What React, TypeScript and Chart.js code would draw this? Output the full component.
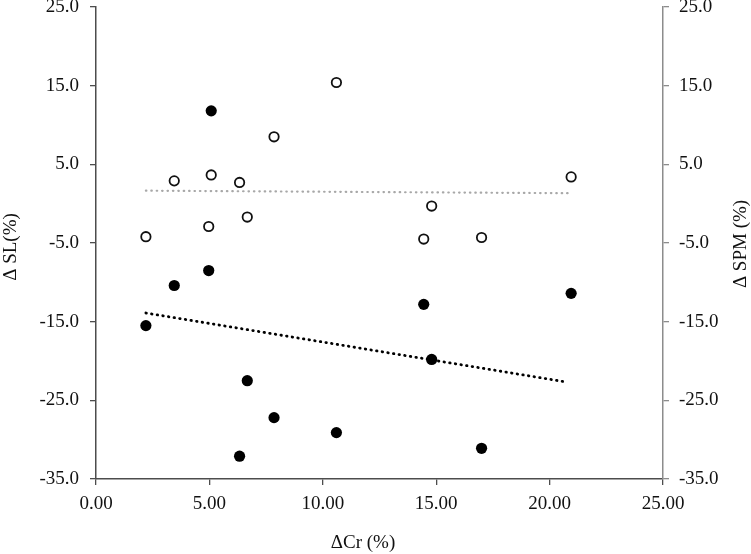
import React, { useEffect, useRef } from "react";
import { Chart, registerables } from "chart.js";

Chart.register(...registerables);

// ---- Data ----
const crValues = [2.2, 3.45, 4.97, 5.08, 6.33, 6.67, 7.85, 10.6, 14.45, 14.8, 17.0, 20.95];
const slValues = [-15.5, -10.4, -8.5, 11.8, -32.1, -22.5, -27.2, -29.1, -12.8, -19.8, -31.1, -11.4];
const spmValues = [-4.2, 2.9, -2.9, 3.65, 2.7, -1.7, 8.5, 15.4, -4.5, -0.3, -4.3, 3.4];

const slTrendX = [2.2, 20.8];
const slTrendY = [-13.9, -22.7];
const spmTrendX = [2.2, 20.8];
const spmTrendY = [1.65, 1.33];

const xTicks = [0, 5, 10, 15, 20, 25];
const yTicks = [-35, -25, -15, -5, 5, 15, 25];

const xTitle = "ΔCr (%)";
const yLeftTitle = "Δ SL(%)";
const yRightTitle = "Δ SPM (%)";

const FONT = "'Liberation Serif', 'Times New Roman', serif";
const FS = 19;

const titlePlugin = {
  id: "axisTitles",
  afterDraw(chart: any) {
    const ctx = chart.ctx;
    ctx.save();
    ctx.font = `${FS}px ${FONT}`;
    ctx.fillStyle = "#111";
    ctx.textAlign = "center";
    ctx.textBaseline = "middle";
    ctx.fillText(xTitle, 363, 543);
    ctx.save();
    ctx.translate(11, 247);
    ctx.rotate(-Math.PI / 2);
    ctx.fillText(yLeftTitle, 0, 0);
    ctx.restore();
    ctx.save();
    ctx.translate(741, 244);
    ctx.rotate(-Math.PI / 2);
    ctx.fillText(yRightTitle, 0, 0);
    ctx.restore();
    ctx.restore();
  },
};

export default function App() {
  const ref = useRef<HTMLCanvasElement | null>(null);

  useEffect(() => {
    if (!ref.current) return;
    const zeroPad = (scale: any) => {
      scale.paddingTop = 0;
      scale.paddingBottom = 0;
      scale.paddingLeft = 0;
      scale.paddingRight = 0;
    };
    const chart = new Chart(ref.current, {
      type: "scatter",
      data: {
        datasets: [
          {
            label: "SL trend",
            data: slTrendX.map((x, i) => ({ x, y: slTrendY[i] })),
            yAxisID: "y",
            showLine: true,
            pointRadius: 0,
            borderColor: "#000",
            borderWidth: 2.8,
            borderDash: [0.5, 5.2],
            borderCapStyle: "round",
            fill: false,
          } as any,
          {
            label: "SPM trend",
            data: spmTrendX.map((x, i) => ({ x, y: spmTrendY[i] })),
            yAxisID: "y2",
            showLine: true,
            pointRadius: 0,
            borderColor: "#a8a8a8",
            borderWidth: 2.2,
            borderDash: [0.5, 4.9],
            borderCapStyle: "round",
            fill: false,
          } as any,
          {
            label: "ΔSL",
            data: crValues.map((x, i) => ({ x, y: slValues[i] })),
            yAxisID: "y",
            pointRadius: 5.6,
            backgroundColor: "#000",
            borderColor: "#000",
            borderWidth: 0,
          },
          {
            label: "ΔSPM",
            data: crValues.map((x, i) => ({ x, y: spmValues[i] })),
            yAxisID: "y2",
            pointRadius: 4.7,
            backgroundColor: "#fff",
            borderColor: "#111",
            borderWidth: 1.8,
          },
        ],
      },
      options: {
        animation: false,
        responsive: true,
        maintainAspectRatio: false,
        layout: { padding: { top: 7, left: 0, right: 0, bottom: 0 } },
        plugins: {
          legend: { display: false },
          tooltip: { enabled: false },
          title: { display: false },
        },
        scales: {
          x: {
            type: "linear",
            position: "bottom",
            min: 0,
            max: 25,
            afterBuildTicks: (s: any) => {
              s.ticks = xTicks.map((v) => ({ value: v }));
            },
            afterFit: (s: any) => {
              s.height = 75;
              zeroPad(s);
            },
            grid: {
              drawOnChartArea: false,
              drawTicks: true,
              tickLength: 6,
              color: "#4d4d4d",
              lineWidth: 1.3,
            },
            border: { display: true, color: "#4d4d4d", width: 1.5 },
            ticks: {
              padding: 8,
              color: "#111",
              font: { family: FONT, size: FS },
              maxRotation: 0,
              callback: (v: any) => Number(v).toFixed(2),
            },
          },
          y: {
            type: "linear",
            position: "left",
            min: -35,
            max: 25,
            afterBuildTicks: (s: any) => {
              s.ticks = yTicks.map((v) => ({ value: v }));
            },
            afterFit: (s: any) => {
              s.width = 96;
              zeroPad(s);
            },
            grid: {
              drawOnChartArea: false,
              drawTicks: true,
              tickLength: 6,
              color: "#4d4d4d",
              lineWidth: 1.3,
            },
            border: { display: true, color: "#4d4d4d", width: 1.5 },
            ticks: {
              padding: 11,
              color: "#111",
              font: { family: FONT, size: FS },
              callback: (v: any) => Number(v).toFixed(1),
            },
          },
          y2: {
            type: "linear",
            position: "right",
            min: -35,
            max: 25,
            afterBuildTicks: (s: any) => {
              s.ticks = yTicks.map((v) => ({ value: v }));
            },
            afterFit: (s: any) => {
              s.width = 88;
              zeroPad(s);
            },
            grid: {
              drawOnChartArea: false,
              drawTicks: true,
              tickLength: 6,
              color: "#8c8c8c",
              lineWidth: 1.3,
            },
            border: { display: true, color: "#8c8c8c", width: 1.5 },
            ticks: {
              padding: 10,
              color: "#111",
              font: { family: FONT, size: FS },
              callback: (v: any) => Number(v).toFixed(1),
            },
          },
        },
      } as any,
      plugins: [titlePlugin],
    });
    return () => chart.destroy();
  }, []);

  return (
    <div style={{ position: "fixed", left: 0, top: 0, width: 751, height: 554, background: "#fff" }}>
      <canvas ref={ref} />
    </div>
  );
}
